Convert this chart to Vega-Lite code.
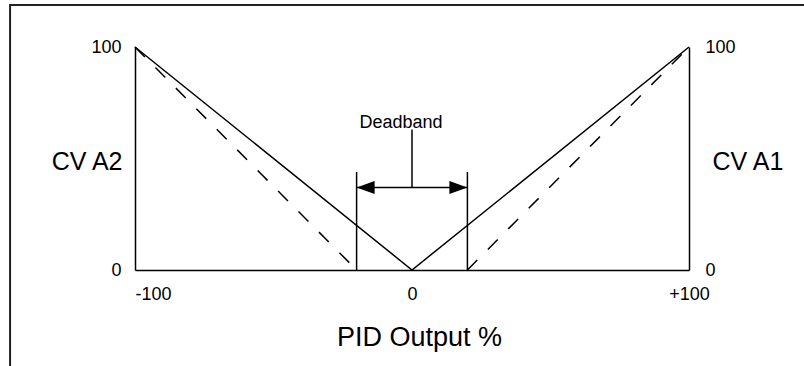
{
  "$schema": "https://vega.github.io/schema/vega-lite/v6.json",
  "width": 554,
  "height": 223,
  "autosize": {"type": "none"},
  "padding": {"left": 135, "top": 47, "right": 115, "bottom": 96},
  "background": "white",
  "config": {
    "view": {"stroke": null},
    "font": "Liberation Sans",
    "axis": {
      "domainColor": "#000",
      "domainWidth": 1.5,
      "ticks": false,
      "tickSize": 0,
      "grid": false,
      "labelColor": "#000",
      "labelFontSize": 18,
      "labelFont": "Liberation Sans",
      "titleColor": "#000",
      "titleFont": "Liberation Sans",
      "titleFontWeight": "normal"
    }
  },
  "resolve": {"axis": {"y": "independent"}},
  "layer": [
    {
      "data": {"values": [
        {"seg": "V", "i": 1, "x": -100, "y": 100},
        {"seg": "V", "i": 2, "x": 0, "y": 0},
        {"seg": "V", "i": 3, "x": 100, "y": 100},
        {"seg": "DL", "i": 1, "x": -20, "y": 0},
        {"seg": "DL", "i": 2, "x": -20, "y": 44},
        {"seg": "DR", "i": 1, "x": 20, "y": 0},
        {"seg": "DR", "i": 2, "x": 20, "y": 44},
        {"seg": "Arrow", "i": 1, "x": -20, "y": 37},
        {"seg": "Arrow", "i": 2, "x": 20, "y": 37},
        {"seg": "Stem", "i": 1, "x": 0, "y": 37},
        {"seg": "Stem", "i": 2, "x": 0, "y": 63}
      ]},
      "mark": {"type": "line", "color": "#000", "strokeWidth": 1.5},
      "encoding": {
        "x": {
          "field": "x", "type": "quantitative",
          "scale": {"domain": [-100, 100], "nice": false, "zero": false},
          "axis": {
            "orient": "bottom",
            "values": [-100, 0, 100],
            "labelExpr": "datum.value > 0 ? '+' + datum.value : '' + datum.value",
            "labelPadding": 15,
            "labelAlign": {"condition": {"test": "datum.value == -100", "value": "left"}, "value": "center"},
            "labelDx": {"condition": {"test": "datum.value == 100", "value": 7}, "value": -2},
            "labelDy": {"condition": {"test": "datum.value == -100", "value": 0}, "value": 3},
            "title": "PID Output %",
            "titleFontSize": 27,
            "titleX": 284,
            "titleY": 75,
            "titleAlign": "center",
            "titleBaseline": "alphabetic"
          }
        },
        "y": {
          "field": "y", "type": "quantitative",
          "scale": {"domain": [0, 100], "nice": false, "zero": false},
          "axis": {
            "orient": "left",
            "values": [0, 100],
            "labelPadding": 14,
            "title": "CV A2",
            "titleFontSize": 25,
            "titleAngle": 0,
            "titleAlign": "right",
            "titleBaseline": "alphabetic",
            "titleX": -13,
            "titleY": 122
          }
        },
        "detail": {"field": "seg"},
        "order": {"field": "i"}
      }
    },
    {
      "data": {"values": [
        {"seg": "L", "i": 1, "x": -100, "y": 100},
        {"seg": "L", "i": 2, "x": -20, "y": 0},
        {"seg": "R", "i": 1, "x": 20, "y": 0},
        {"seg": "R", "i": 2, "x": 100, "y": 100}
      ]},
      "mark": {"type": "line", "color": "#000", "strokeWidth": 1.5, "strokeDash": [14, 15]},
      "encoding": {
        "x": {"field": "x", "type": "quantitative"},
        "y": {
          "field": "y", "type": "quantitative",
          "axis": {
            "orient": "right",
            "values": [0, 100],
            "labelPadding": 16,
            "title": "CV A1",
            "titleFontSize": 25,
            "titleAngle": 0,
            "titleAlign": "left",
            "titleBaseline": "alphabetic",
            "titleX": 23,
            "titleY": 122
          }
        },
        "detail": {"field": "seg"},
        "order": {"field": "i"}
      }
    },
    {
      "data": {"values": [
        {"i": 1, "x": -145.1, "y": -60},
        {"i": 2, "x": -145.1, "y": 118.8},
        {"i": 3, "x": 160, "y": 118.8}
      ]},
      "mark": {"type": "line", "color": "#222", "strokeWidth": 2, "clip": false},
      "encoding": {
        "x": {"field": "x", "type": "quantitative"},
        "y": {"field": "y", "type": "quantitative", "axis": null},
        "order": {"field": "i"}
      }
    },
    {
      "data": {"values": [{"x": -20, "y": 37}]},
      "mark": {"type": "point", "filled": true, "color": "#000", "opacity": 1, "size": 81, "shape": "M0,0L4,-1.45L4,1.45Z"},
      "encoding": {
        "x": {"field": "x", "type": "quantitative"},
        "y": {"field": "y", "type": "quantitative", "axis": null}
      }
    },
    {
      "data": {"values": [{"x": 20, "y": 37}]},
      "mark": {"type": "point", "filled": true, "color": "#000", "opacity": 1, "size": 81, "shape": "M0,0L-4,-1.45L-4,1.45Z"},
      "encoding": {
        "x": {"field": "x", "type": "quantitative"},
        "y": {"field": "y", "type": "quantitative", "axis": null}
      }
    },
    {
      "data": {"values": [{"x": -4, "y": 63, "label": "Deadband"}]},
      "mark": {"type": "text", "fontSize": 18, "color": "#000", "align": "center", "baseline": "alphabetic", "dy": -2},
      "encoding": {
        "x": {"field": "x", "type": "quantitative"},
        "y": {"field": "y", "type": "quantitative", "axis": null},
        "text": {"field": "label"}
      }
    }
  ]
}
